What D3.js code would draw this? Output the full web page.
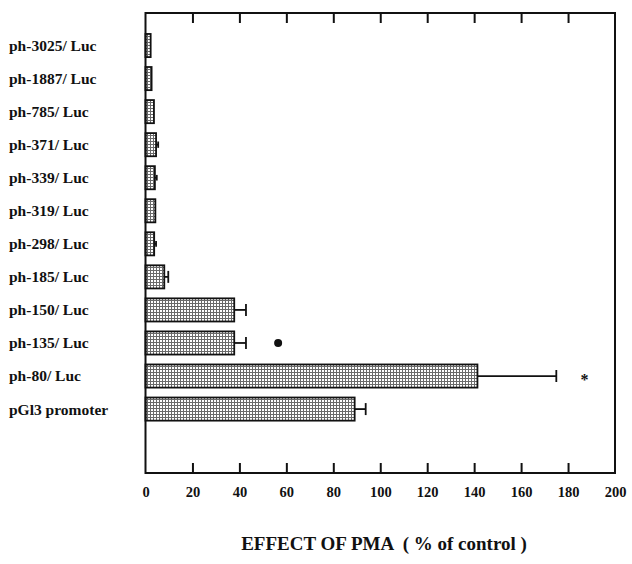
<!DOCTYPE html>
<html>
<head>
<meta charset="utf-8">
<script src="https://cdn.jsdelivr.net/npm/d3@7"></script>
<style>
  body { margin: 0; background: #fff; }
  text { font-family: "Liberation Serif", "DejaVu Serif", serif; font-weight: bold; }
</style>
</head>
<body>
<div id="chart"></div>
<script>
// Data
const constructs = ["ph-3025/ Luc", "ph-1887/ Luc", "ph-785/ Luc", "ph-371/ Luc", "ph-339/ Luc",
    "ph-319/ Luc", "ph-298/ Luc", "ph-185/ Luc", "ph-150/ Luc", "ph-135/ Luc", "ph-80/ Luc", "pGl3 promoter"];
const effect = [2.2, 2.6, 3.6, 4.5, 4.0, 4.2, 3.7, 8.0, 37.8, 37.8, 141.4, 89.1];
const errorTop = [2.2, 2.6, 3.6, 5.4, 4.8, 4.2, 4.5, 9.7, 42.8, 42.8, 175, 93.8];
const xTicks = [0, 20, 40, 60, 80, 100, 120, 140, 160, 180, 200];
const dotMarks = [{ label: "ph-135/ Luc", value: 56.5 }];
const starMarks = [{ label: "ph-80/ Luc", value: 187 }];

const width = 632;
const height = 564;
const frame = { left: 145.5, right: 615, top: 13, bottom: 473 };

const svg = d3.select("#chart")
    .append("svg")
    .attr("width", width)
    .attr("height", height);

// Dotted grid fill for the bars
const defs = svg.append("defs");
const pat = defs.append("pattern")
    .attr("id", "mesh")
    .attr("width", 3)
    .attr("height", 3)
    .attr("patternUnits", "userSpaceOnUse");
pat.append("rect").attr("width", 3).attr("height", 3).attr("fill", "#6a6a6a");
pat.append("rect").attr("x", 1).attr("y", 1).attr("width", 2).attr("height", 2).attr("fill", "#ffffff");

const x = d3.scaleLinear().domain([0, 200]).range([frame.left, frame.right]);
const y = d3.scaleBand().domain(constructs).range([29, 425.6]).paddingInner(0.3).paddingOuter(0.15);

// Bars
svg.append("g")
    .selectAll("rect")
    .data(constructs)
    .enter().append("rect")
    .attr("x", x(0))
    .attr("y", d => y(d))
    .attr("width", (d, i) => x(effect[i]) - x(0))
    .attr("height", y.bandwidth())
    .attr("fill", "url(#mesh)")
    .attr("stroke", "#111")
    .attr("stroke-width", 1.8);

// Error bars
const err = svg.append("g").attr("stroke", "#111").attr("stroke-width", 1.8);
constructs.forEach((c, i) => {
    if (errorTop[i] <= effect[i]) return;
    const cy = y(c) + y.bandwidth() / 2;
    err.append("line")
        .attr("x1", x(effect[i])).attr("x2", x(errorTop[i]))
        .attr("y1", cy).attr("y2", cy);
    const cap = Math.min(12, Math.max(4, (x(errorTop[i]) - x(effect[i])) * 3));
    err.append("line")
        .attr("x1", x(errorTop[i])).attr("x2", x(errorTop[i]))
        .attr("y1", cy - cap / 2).attr("y2", cy + cap / 2);
});

// Frame
svg.append("rect")
    .attr("x", frame.left)
    .attr("y", frame.top)
    .attr("width", frame.right - frame.left)
    .attr("height", frame.bottom - frame.top)
    .attr("fill", "none")
    .attr("stroke", "#111")
    .attr("stroke-width", 2);

// Bottom axis (ticks pointing inward)
const bottomAxis = svg.append("g")
    .attr("transform", `translate(0,${frame.bottom})`)
    .call(d3.axisBottom(x).tickValues(xTicks).tickSize(-10).tickPadding(14).tickFormat(d3.format("d")));
bottomAxis.select(".domain").remove();
bottomAxis.selectAll("line").attr("stroke", "#111").attr("stroke-width", 2)
    .filter(d => d === 0 || d === 200).remove();
bottomAxis.selectAll("text")
    .attr("font-size", 14.5)
    .attr("fill", "#111")
    .style("font-family", "'Liberation Serif', serif")
    .style("font-weight", "bold");

// Top ticks
const topAxis = svg.append("g")
    .attr("transform", `translate(0,${frame.top})`)
    .call(d3.axisTop(x).tickValues(xTicks.filter(d => d > 0 && d < 200)).tickSize(-10).tickFormat(""));
topAxis.select(".domain").remove();
topAxis.selectAll("line").attr("stroke", "#111").attr("stroke-width", 2);

// Category labels
svg.append("g")
    .selectAll("text")
    .data(constructs)
    .enter().append("text")
    .attr("x", 9)
    .attr("y", d => y(d) + y.bandwidth() / 2)
    .attr("dy", "0.35em")
    .attr("font-size", 15.5)
    .attr("fill", "#111")
    .text(d => d);

// Significance markers
svg.append("g")
    .selectAll("circle")
    .data(dotMarks)
    .enter().append("circle")
    .attr("cx", d => x(d.value))
    .attr("cy", d => y(d.label) + y.bandwidth() / 2)
    .attr("r", 4)
    .attr("fill", "#111");

svg.append("g")
    .selectAll("text")
    .data(starMarks)
    .enter().append("text")
    .attr("x", d => x(d.value))
    .attr("y", d => y(d.label) + y.bandwidth() / 2)
    .attr("dy", "0.55em")
    .attr("text-anchor", "middle")
    .attr("font-size", 16)
    .attr("fill", "#111")
    .text("*");

// Axis title
svg.append("text")
    .attr("x", 384)
    .attr("y", 550)
    .attr("text-anchor", "middle")
    .attr("font-size", 19)
    .attr("fill", "#111")
    .style("white-space", "pre")
    .text("EFFECT OF PMA  ( % of control )");
</script>
</body>
</html>
